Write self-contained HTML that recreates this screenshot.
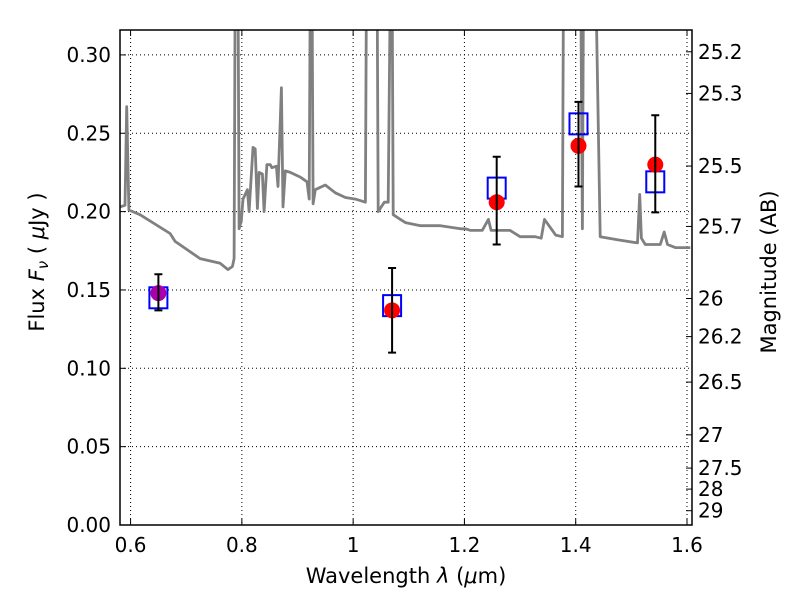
<!DOCTYPE html>
<html><head><meta charset="utf-8"><style>
body{margin:0;background:#fff}
svg{font-family:"DejaVu Sans","Liberation Sans",sans-serif}
</style></head><body>
<svg id="c" width="800" height="600"></svg>
<script>
const xTicks=[0.6,0.8,1.0,1.2,1.4,1.6];
const xTickLabels=["0.6","0.8","1","1.2","1.4","1.6"];
const yTicks=[0,0.05,0.10,0.15,0.20,0.25,0.30];
const yTickLabels=["0.00","0.05","0.10","0.15","0.20","0.25","0.30"];
const magTicks=[25.2,25.3,25.5,25.7,26,26.2,26.5,27,27.5,28,29];
const magTickLabels=["25.2","25.3","25.5","25.7","26","26.2","26.5","27","27.5","28","29"];
const specWave=[0.581,0.590,0.593,0.597,0.617,0.671,0.680,0.725,0.761,0.775,0.783,0.786,0.788,0.793,0.795,0.799,0.802,0.810,0.813,0.820,0.824,0.828,0.831,0.837,0.840,0.845,0.851,0.854,0.862,0.865,0.871,0.874,0.878,0.887,0.905,0.917,0.921,0.923,0.926,0.928,0.932,0.950,0.968,0.986,1.004,1.022,1.024,1.043,1.045,1.056,1.063,1.067,1.070,1.072,1.085,1.094,1.121,1.157,1.193,1.202,1.211,1.232,1.243,1.248,1.282,1.300,1.327,1.338,1.344,1.364,1.376,1.378,1.405,1.409,1.412,1.414,1.436,1.444,1.475,1.511,1.515,1.518,1.525,1.552,1.559,1.565,1.579,1.606];
const specFlux=[0.203,0.204,0.267,0.201,0.198,0.186,0.181,0.170,0.167,0.163,0.165,0.170,0.35,0.35,0.189,0.194,0.208,0.214,0.200,0.241,0.240,0.202,0.225,0.224,0.200,0.230,0.230,0.228,0.229,0.216,0.279,0.203,0.226,0.225,0.222,0.219,0.208,0.35,0.35,0.205,0.214,0.217,0.212,0.209,0.208,0.206,0.35,0.35,0.200,0.206,0.206,0.35,0.35,0.198,0.195,0.193,0.191,0.191,0.189,0.189,0.188,0.188,0.195,0.188,0.188,0.184,0.184,0.183,0.195,0.185,0.184,0.35,0.35,0.35,0.189,0.35,0.35,0.184,0.182,0.180,0.211,0.183,0.179,0.179,0.187,0.179,0.177,0.177];
const photWave=[0.65,1.07,1.258,1.405,1.543];
const photFlux=[0.148,0.137,0.206,0.242,0.230];
const photErrLo=[0.137,0.110,0.179,0.216,0.1995];
const photErrHi=[0.160,0.164,0.235,0.270,0.2615];
const modelFlux=[0.145,0.140,0.215,0.256,0.219];
const photColor=["#aa00aa","red","red","red","red"];

const L=120,R=692,T=30,B=525;
const xMin=0.581,xMax=1.609,yMin=0,yMax=0.3159;
const X=v=>L+(v-xMin)/(xMax-xMin)*(R-L);
const Y=v=>B-(v-yMin)/(yMax-yMin)*(B-T);
const svg=document.getElementById('c');
const NS='http://www.w3.org/2000/svg';
function mk(t,a,p){const e=document.createElementNS(NS,t);for(const k in a)e.setAttribute(k,a[k]);(p||svg).appendChild(e);return e;}
const cp=mk('clipPath',{id:'clip'});mk('rect',{x:L,y:T,width:R-L,height:B-T},cp);
xTicks.forEach((v,i)=>{const x=X(v);
 const g=mk('line',{x1:x,x2:x,y1:T,y2:B,stroke:'#000','stroke-width':1,'stroke-dasharray':'1,3'});
 
 
 mk('line',{x1:x,x2:x,y1:B,y2:B-6,stroke:'#000'});mk('line',{x1:x,x2:x,y1:T,y2:T+6,stroke:'#000'});
 const t=mk('text',{x:x,y:552,'font-size':20,'text-anchor':'middle'});t.textContent=xTickLabels[i];
 
 
});
yTicks.forEach((v,i)=>{const y=Y(v);
 const g=mk('line',{x1:L,x2:R,y1:y,y2:y,stroke:'#000','stroke-width':1,'stroke-dasharray':'1,3'});
 
 
 mk('line',{x1:L,x2:L+6,y1:y,y2:y,stroke:'#000'});
 const t=mk('text',{x:111,y:y+7,'font-size':20,'text-anchor':'end'});t.textContent=yTickLabels[i];
 
 
});
magTicks.forEach((m,i)=>{const f=Math.pow(10,(23.9-m)/2.5);const y=Y(f);
 mk('line',{x1:R,x2:R-6,y1:y,y2:y,stroke:'#000'});
 const t=mk('text',{x:698,y:y+7,'font-size':20});t.textContent=magTickLabels[i];
 
 
});
const g=mk('g',{'clip-path':'url(#clip)'});
const pts=specWave.map((w,i)=>X(w).toFixed(1)+','+Y(specFlux[i]).toFixed(1)).join(' ');
const sp=mk('polyline',{points:pts,fill:'none',stroke:'#808080','stroke-width':2.8,'stroke-linejoin':'round'},g);


photWave.forEach((w,i)=>{const x=X(w),y=Y(modelFlux[i]);
 const b=mk('rect',{x:x-9,y:y-10.5,width:18,height:21,fill:'none',stroke:'#0000ff','stroke-width':2},g);
 
 
});
photWave.forEach((w,i)=>{const x=X(w);
 const c=mk('circle',{cx:x,cy:Y(photFlux[i]),r:8,fill:photColor[i]},g);
 
 
 const y1=Y(photErrHi[i]),y2=Y(photErrLo[i]);
 const e=mk('path',{d:`M${x},${y1}V${y2}M${x-4},${y1}H${x+4}M${x-4},${y2}H${x+4}`,stroke:'#000','stroke-width':2,fill:'none'},g);
 
 
});
const fr=mk('rect',{x:L,y:T,width:R-L,height:B-T,fill:'none',stroke:'#000','stroke-width':1.5});


</script>
<svg style="position:absolute;left:0;top:0" width="800" height="600">
<text x="406" y="583" font-size="21" text-anchor="middle" font-family="DejaVu Sans, Liberation Sans, sans-serif">Wavelength  <tspan font-style="italic">λ</tspan> (<tspan font-style="italic">μ</tspan>m)</text>
<text transform="translate(44,262) rotate(-90)" font-size="21" text-anchor="middle" font-family="DejaVu Sans, Liberation Sans, sans-serif">Flux  <tspan font-style="italic">F</tspan><tspan font-style="italic" font-size="15" dy="4">ν</tspan><tspan dy="-4">  ( </tspan><tspan font-style="italic">μ</tspan>Jy )</text>
<text transform="translate(776,272) rotate(-90)" font-size="21" text-anchor="middle" font-family="DejaVu Sans, Liberation Sans, sans-serif">Magnitude (AB)</text>
</svg>
</body></html>
